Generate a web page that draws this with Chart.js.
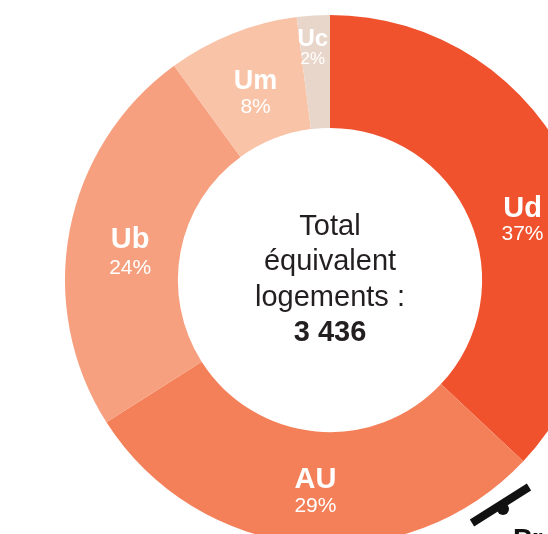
<!DOCTYPE html>
<html>
<head>
<meta charset="utf-8">
<script src="https://cdn.jsdelivr.net/npm/chart.js@4/dist/chart.umd.min.js"></script>
<style>
  html, body { margin: 0; padding: 0; background: #ffffff; width: 548px; height: 534px; overflow: hidden; }
  #wrap { position: absolute; left: 0; top: 0; width: 660px; height: 560px; }
</style>
</head>
<body>
<div id="wrap"><canvas id="c" width="660" height="560"></canvas></div>
<script>
// ---- data ----
const categories = ['Ud', 'AU', 'Ub', 'Um', 'Uc'];
const logements = [1271, 996, 825, 275, 69];
const colors = ['#F0522E', '#F4805A', '#F6A07F', '#F9C3A7', '#E9D6CA'];
const totalLabel = '3 436';
const centerLines = ['Total', 'équivalent', 'logements :'];

// label placement tweaks (degrees shift, radial fraction in ring, font sizes)
const labelAngleShift = [6, -1.4, -2.8, 0, -0.6];
const labelRadiusFrac = [0.44, 0.53, 0.44, 0.44, 0.72];
const labelNameSize = [29, 29, 29, 27, 24];
const labelPctSize = [21, 21, 21, 21, 17];
const labelGap = [26, 26, 28, 25, 20];

const FONT = '"Liberation Sans", Arial, Helvetica, sans-serif';

const labelsPlugin = {
  id: 'sliceLabels',
  afterDatasetsDraw(chart) {
    const ctx = chart.ctx;
    const meta = chart.getDatasetMeta(0);
    const data = chart.data.datasets[0].data;
    const total = data.reduce((a, b) => a + b, 0);
    ctx.save();
    ctx.textAlign = 'center';
    ctx.textBaseline = 'middle';
    meta.data.forEach((arc, i) => {
      const p = arc.getProps(['startAngle', 'endAngle', 'innerRadius', 'outerRadius', 'x', 'y'], true);
      const mid = (p.startAngle + p.endAngle) / 2 + labelAngleShift[i] * Math.PI / 180;
      const r = p.innerRadius + labelRadiusFrac[i] * (p.outerRadius - p.innerRadius);
      const x = p.x + Math.cos(mid) * r;
      const y = p.y + Math.sin(mid) * r + 2;
      ctx.fillStyle = '#ffffff';
      ctx.font = 'bold ' + labelNameSize[i] + 'px ' + FONT;
      ctx.fillText(chart.data.labels[i], x, y - labelGap[i] / 2);
      ctx.font = labelPctSize[i] + 'px ' + FONT;
      ctx.fillText(Math.round(data[i] / total * 100) + '%', x, y + labelGap[i] / 2);
    });
    // centre text
    const a0 = meta.data[0];
    const cx = a0.x, cy = a0.y;
    ctx.fillStyle = '#231F20';
    ctx.font = '29px ' + FONT;
    const lh = 35.5;
    const startY = cy - 1.5 * lh - 0;
    centerLines.forEach((t, k) => ctx.fillText(t, cx, startY + k * lh));
    ctx.font = 'bold 29px ' + FONT;
    ctx.fillText(totalLabel, cx, startY + 3 * lh);

    // fragment of neighbouring figure (bottom right)
    ctx.strokeStyle = '#111111';
    ctx.fillStyle = '#111111';
    ctx.lineWidth = 8;
    ctx.lineCap = 'butt';
    ctx.beginPath();
    ctx.moveTo(472, 523);
    ctx.lineTo(529, 487);
    ctx.stroke();
    ctx.beginPath();
    ctx.arc(503, 509, 6, 0, Math.PI * 2);
    ctx.fill();
    ctx.textAlign = 'left';
    ctx.textBaseline = 'alphabetic';
    ctx.font = 'bold 28px ' + FONT;
    ctx.fillText('Pr', 513, 548);
    ctx.restore();
  }
};

new Chart(document.getElementById('c'), {
  type: 'doughnut',
  data: {
    labels: categories,
    datasets: [{
      data: logements,
      backgroundColor: colors,
      borderWidth: 0,
      hoverOffset: 0
    }]
  },
  options: {
    responsive: false,
    maintainAspectRatio: false,
    devicePixelRatio: 1,
    animation: false,
    cutout: '57.4%',
    layout: { padding: 15 },
    plugins: {
      legend: { display: false },
      tooltip: { enabled: false },
      title: { display: false }
    }
  },
  plugins: [labelsPlugin]
});
</script>
</body>
</html>
